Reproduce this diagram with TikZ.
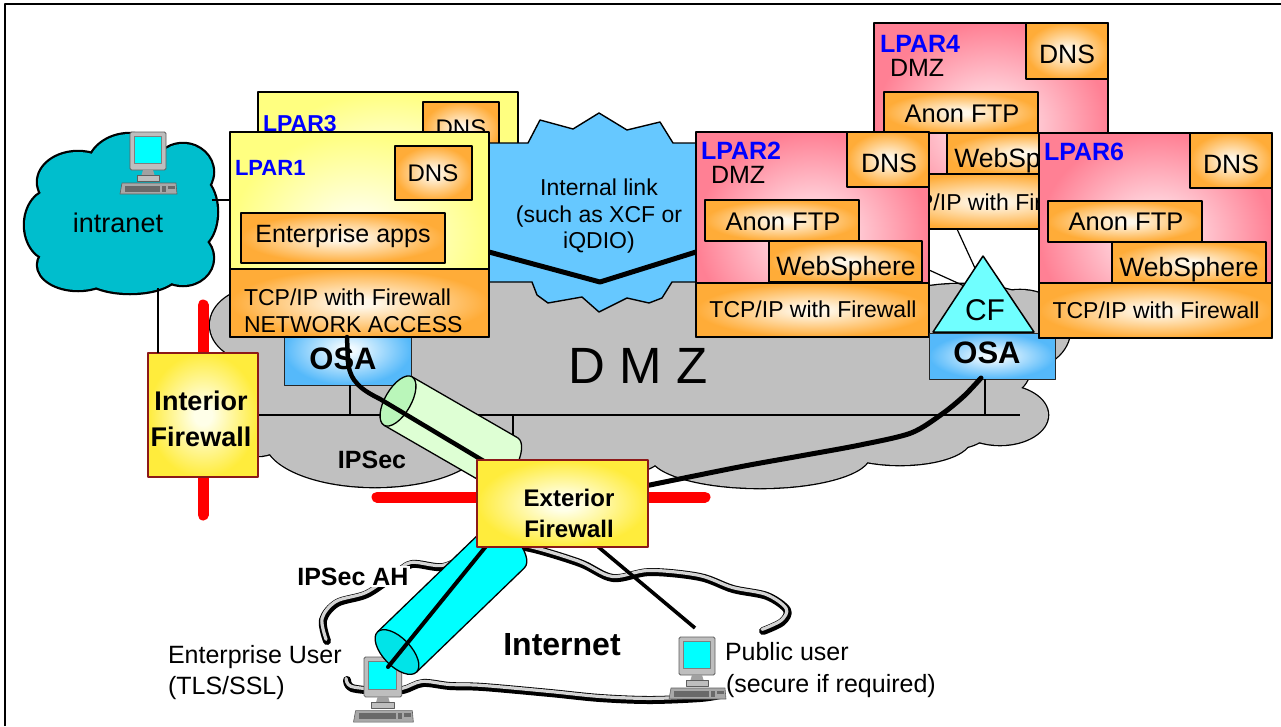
\documentclass[tikz,border=0pt]{standalone}
\usepackage{fontspec}
\setmainfont{Liberation Sans}
\usetikzlibrary{calc}

\definecolor{lparY}{RGB}{255,255,128}
\definecolor{lparYc}{RGB}{255,255,236}
\definecolor{lparP}{RGB}{255,128,148}
\definecolor{lparPc}{RGB}{255,228,234}
\definecolor{svcO}{RGB}{255,172,56}
\definecolor{svcOc}{RGB}{255,247,232}
\definecolor{osaB}{RGB}{85,185,250}
\definecolor{osaBc}{RGB}{240,250,255}
\definecolor{fwY}{RGB}{255,236,60}
\definecolor{fwYc}{RGB}{255,255,232}
\definecolor{fwEdge}{RGB}{140,25,25}
\definecolor{dmzGray}{RGB}{192,192,192}
\definecolor{linkBlue}{RGB}{102,200,255}
\definecolor{intraCyan}{RGB}{0,190,205}
\definecolor{cfCyan}{RGB}{112,255,255}
\definecolor{tunGreen}{RGB}{222,255,212}
\definecolor{tunGreenCap}{RGB}{186,246,186}
\definecolor{tunCyan}{RGB}{0,255,255}
\definecolor{tunCyanCap}{RGB}{0,228,232}
\definecolor{screenCyan}{RGB}{0,255,255}
\definecolor{lparBlue}{RGB}{0,0,255}
\definecolor{monGray}{RGB}{190,190,190}
\definecolor{monEdge}{RGB}{95,95,95}
\definecolor{kbdGray}{RGB}{168,168,168}
\definecolor{kbdKeys}{RGB}{105,105,105}
\definecolor{cloudBand}{RGB}{212,212,212}

% soft radial fills: light centre, full colour towards the edges
\pgfdeclareradialshading{glowY}{\pgfpoint{0bp}{0bp}}{color(0bp)=(lparYc); color(4bp)=(lparYc); color(25bp)=(lparY); color(50bp)=(lparY)}
\pgfdeclareradialshading{glowP}{\pgfpoint{0bp}{0bp}}{color(0bp)=(lparPc); color(4bp)=(lparPc); color(25bp)=(lparP); color(50bp)=(lparP)}
\pgfdeclareradialshading{glowO}{\pgfpoint{0bp}{0bp}}{color(0bp)=(svcOc); color(3bp)=(svcOc); color(25bp)=(svcO); color(50bp)=(svcO)}
\pgfdeclareradialshading{glowB}{\pgfpoint{0bp}{0bp}}{color(0bp)=(osaBc); color(3bp)=(osaBc); color(25bp)=(osaB); color(50bp)=(osaB)}
\pgfdeclareradialshading{glowF}{\pgfpoint{0bp}{0bp}}{color(0bp)=(fwYc); color(4bp)=(fwYc); color(25bp)=(fwY); color(50bp)=(fwY)}

\newcommand\setfs[1]{\fontsize{#1}{#1}\selectfont}

% tunnel cylinder: centre x, centre y, angle, length, radius, cap half-width, body colour, cap colour
\newcommand\tubeshape[8]{%
  \begin{scope}[shift={(#1,#2)}, rotate=#3]
    \fill[#7] (0,-#5) -- (#4,-#5) -- (#4,#5) -- (0,#5) -- cycle;
    \fill[#7] (#4,0) ellipse [x radius=#6, y radius=#5];
    \begin{scope}
      \clip (#4,-#5-4) -- (#4+#6+4,-#5-4) -- (#4+#6+4,#5+4) -- (#4,#5+4) -- cycle;
      \draw[line width=1.3] (#4,0) ellipse [x radius=#6, y radius=#5];
    \end{scope}
    \draw[line width=1.3] (0,-#5) -- (#4,-#5) (0,#5) -- (#4,#5);
    \draw[line width=1.3, fill=#8] (0,0) ellipse [x radius=#6, y radius=#5];
  \end{scope}}

% cloud outlines as unions of ellipses: x/y/rx/ry
\newcommand\intrablobs{120/215/85/60, 130/168/42/34, 78/182/40/30, 52/225/27/35, 78/265/40/25, 130/273/48/20, 183/258/30/27, 195/212/22/36, 183/172/30/28}
\newcommand\dmzblobs{640/370/390/85, 600/300/160/25, 960/320/90/36, 262/325/52/38, 258/400/45/56, 375/440/110/47, 565/452/100/30, 760/455/110/33, 900/440/70/25, 950/425/42/24, 1000/415/48/30, 1020/330/50/40}

% Internet cloud, drawn as two open strokes
\newcommand\inetTopPath{plot[smooth, tension=0.55] coordinates {(327,641) (323,620) (337,603) (367,594) (395,575) (412,564) (443,567) (470,555) (500,546) (530,548) (580,563) (613,578) (650,572) (700,577) (733,589) (767,596) (787,610) (782,622) (763,631)}}
\newcommand\inetBotPath{plot[smooth, tension=0.55] coordinates {(347,680) (352,688) (380,691) (403,690) (423,683) (450,686) (483,687) (550,693) (600,698) (650,700) (700,698) (720,695)}}

\tikzset{
  pics/workstation/.style={code={
    \draw[fill=monGray, draw=monEdge, line width=0.8, rounded corners=1.5] (0,0) rectangle (36,38);
    \draw[fill=screenCyan, draw=monEdge!80, line width=0.6] (4.5,4) rectangle (31,31);
    \fill[monGray!85!black] (13,38) -- (23,38) -- (24.5,43) -- (11.5,43) -- cycle;
    \draw[fill=monGray, draw=monEdge, line width=0.5] (7,43) rectangle (29,49);
    \draw[fill=kbdGray, draw=monEdge, line width=0.6] (-8,51) -- (46,51) -- (47,62) -- (-10,62) -- cycle;
    \fill[kbdKeys] (-5,53.5) rectangle (30,59.5);
    \fill[kbdKeys] (32,53.5) rectangle (36,59.5);
    \fill[kbdKeys] (38,53.5) rectangle (45,57);
  }}
}

\begin{document}
\begin{tikzpicture}[x=1pt, y=-1pt, line join=round,
  every node/.style={inner sep=0pt, outer sep=0pt},
  boxsize/.style 2 args={minimum width=#1, minimum height=#2},
  lparframe/.style={draw=black, line width=1.8, shade, anchor=north west},
  ylpar/.style={lparframe, shading=glowY},
  plpar/.style={lparframe, shading=glowP},
  svcbox/.style={draw=black, line width=1.4, shade, shading=glowO, anchor=north west},
  osabox/.style={draw=black!85, line width=1, shade, shading=glowB, anchor=north west},
  fwbox/.style={draw=fwEdge, line width=1.5, shade, shading=glowF, anchor=north west},
  lparname/.style={anchor=base west, text=lparBlue, font=\bfseries\setfs{#1}},
  txt/.style={anchor=base, font=\setfs{#1}},
  txtw/.style={anchor=base west, font=\setfs{#1}},
  txtb/.style={anchor=base, font=\bfseries\setfs{#1}},
  wire/.style={draw=black, line width=1.2},
  trunk/.style={draw=black, line width=4.5, line cap=round},
  fwbar/.style={draw=red, line width=11, line cap=round},
  cloudedge/.style={draw=black, line width=8, line cap=round},
  cloudband/.style={draw=cloudBand, line width=3.2, line cap=round, shift={(-0.9,-1.6)}},
]
\useasboundingbox (0,0) rectangle (1281,726);
\fill[white] (0,0) rectangle (1281,726);
\draw[line width=1.5] (5,726) -- (5,4) -- (1281,4);

% ---------------- intranet
\foreach \a/\b/\c/\d in \intrablobs {\draw[line width=4.5] (\a,\b) ellipse [x radius=\c, y radius=\d];}
\foreach \a/\b/\c/\d in \intrablobs {\fill[intraCyan] (\a,\b) ellipse [x radius=\c, y radius=\d];}
\pic (intraPC) at (130,132) {workstation};
\node[txt=27] (intraT) at (118,232) {intranet};
\coordinate (intraS) at (158,288);
\coordinate (intraE) at (212,200);

% ---------------- DMZ cloud
\foreach \a/\b/\c/\d in \dmzblobs {\draw[line width=2.6] (\a,\b) ellipse [x radius=\c, y radius=\d];}
\foreach \a/\b/\c/\d in \dmzblobs {\fill[dmzGray] (\a,\b) ellipse [x radius=\c, y radius=\d];}
\node[txt=51] (dmzT) at (638,383) {D M Z};
\node[txtb=25] (ipsecT) at (372,468) {IPSec};

% LAN segment
\coordinate (lanW) at (258,415);
\coordinate (lanE) at (1020,415);
\coordinate (tapA) at (350,415);
\coordinate (tapB) at (513,415);
\coordinate (tapBend) at (513,442);
\coordinate (tapC) at (985,415);
\draw[wire] (lanW) -- (lanE);
\draw[wire] (tapB) -- (tapBend);

% OSA adapter of LPAR1
\node[osabox, boxsize={127}{70}] (osaL) at (284,315) {};
\node[txtb=31] (osaLT) at (343,369) {OSA};
\draw[wire] (osaL.south -| tapA) -- (tapA);

% ---------------- LPAR4
\node[plpar, boxsize={234}{206}] (lpar4) at (874,23) {};
\node[svcbox, boxsize={82}{56}] (lpar4dns) at (1026,23) {};
\node[svcbox, boxsize={154}{41}] (lpar4ftp) at (884,92) {};
\node[svcbox, boxsize={154}{41}] (lpar4web) at (947,133) {};
\node[svcbox, boxsize={234}{55}] (lpar4tcp) at (874,174) {};
\node[lparname=25] (lpar4T) at (880,52) {LPAR4};
\node[txtw=25] (lpar4Z) at (890,76) {DMZ};
\node[txt=26.5] (lpar4dnsT) at (1067,63) {DNS};
\node[txt=25.5] (lpar4ftpT) at (962,122) {Anon FTP};
\begin{scope}
  \clip (947,133) rectangle (1039,174);
  \node[txt=26.5] (lpar4webT) at (1024,167) {WebSphere};
\end{scope}
\begin{scope}
  \clip (874,174) rectangle (1039,229);
  \node[txt=23] (lpar4tcpT) at (991,210) {TCP/IP with Firewall};
\end{scope}

% ---------------- LPAR3
\node[ylpar, boxsize={260}{173}] (lpar3) at (258,92) {};
\node[svcbox, boxsize={76}{54}] (lpar3dns) at (423,102) {};
\node[lparname=23] (lpar3T) at (263,131) {LPAR3};
\node[txt=24] (lpar3dnsT) at (461,136) {DNS};

% ---------------- internal link
\draw[fill=linkBlue, line width=1.4] (480,143) -- (528,143) -- (540,120) -- (573,129) -- (599,113) -- (627,130) -- (660,122) -- (673,143) -- (710,143) -- (710,282) -- (672,282) -- (662,298) -- (649,303) -- (627,298) -- (599,312) -- (582,297) -- (548,303) -- (537,295) -- (532,282) -- (480,282) -- cycle;
\node[txt=23] (linkT1) at (599,195) {Internal link};
\node[txt=23] (linkT2) at (599,222) {(such as XCF or};
\node[txt=23] (linkT3) at (599,248) {iQDIO)};
\coordinate (linkA) at (489,252);
\coordinate (linkM) at (600,282);
\coordinate (linkB) at (696,252);
\draw[line width=5] (linkA) -- (linkM) -- (linkB);

% ---------------- LPAR1
\node[ylpar, boxsize={259}{205}] (lpar1) at (230,132) {};
\node[svcbox, boxsize={77}{54}] (lpar1dns) at (395,146) {};
\node[svcbox, boxsize={204}{50}] (lpar1app) at (241,213) {};
\node[svcbox, boxsize={259}{68}] (lpar1tcp) at (230,269) {};
\node[lparname=22] (lpar1T) at (235,175) {LPAR1};
\node[txt=24] (lpar1dnsT) at (433,181) {DNS};
\node[txt=25] (lpar1appT) at (343,242) {Enterprise apps};
\node[txtw=23] (lpar1tcpT1) at (244,305) {TCP/IP with Firewall};
\node[txtw=23] (lpar1tcpT2) at (244,332) {NETWORK ACCESS};

% ---------------- LPAR2
\node[plpar, boxsize={233}{205}] (lpar2) at (696,132) {};
\node[svcbox, boxsize={82}{55}] (lpar2dns) at (847,132) {};
\node[svcbox, boxsize={154}{41}] (lpar2ftp) at (705,200) {};
\node[svcbox, boxsize={153}{41}] (lpar2web) at (769,241) {};
\node[svcbox, boxsize={233}{54}] (lpar2tcp) at (696,283) {};
\node[lparname=25] (lpar2T) at (701,159) {LPAR2};
\node[txtw=25] (lpar2Z) at (711,183) {DMZ};
\node[txt=26.5] (lpar2dnsT) at (889,172) {DNS};
\node[txt=25.5] (lpar2ftpT) at (783,230) {Anon FTP};
\node[txt=26.5] (lpar2webT) at (846,275) {WebSphere};
\node[txt=23] (lpar2tcpT) at (813,317) {TCP/IP with Firewall};

% ---------------- coupling facility and OSA of the DMZ images
\coordinate (cfTop) at (983,256);
\coordinate (cfL) at (933,332);
\coordinate (cfR) at (1034,332);
\draw[wire] (957,229) -- ($(cfTop)!0.16!(cfL)$);
\draw[wire] (lpar2.east |- 0,270) -- ($(cfTop)!0.39!(cfL)$);
\draw[fill=cfCyan, line width=1.5] (cfTop) -- (cfL) -- (cfR) -- cycle;
\node[txt=30] (cfT) at (985,320) {CF};
\node[osabox, boxsize={126}{46}] (osaR) at (929,333) {};
\node[txtb=31] (osaRT) at (987,363) {OSA};
\draw[wire] (osaR.south -| tapC) -- (tapC);

% ---------------- LPAR6
\node[plpar, boxsize={233}{205}] (lpar6) at (1039,133) {};
\node[svcbox, boxsize={82}{55}] (lpar6dns) at (1190,133) {};
\node[svcbox, boxsize={154}{41}] (lpar6ftp) at (1048,201) {};
\node[svcbox, boxsize={154}{41}] (lpar6web) at (1112,242) {};
\node[svcbox, boxsize={233}{55}] (lpar6tcp) at (1039,283) {};
\node[lparname=25] (lpar6T) at (1044,160) {LPAR6};
\node[txt=26.5] (lpar6dnsT) at (1231,173) {DNS};
\node[txt=25.5] (lpar6ftpT) at (1126,230) {Anon FTP};
\node[txt=26.5] (lpar6webT) at (1189,276) {WebSphere};
\node[txt=23] (lpar6tcpT) at (1156,318) {TCP/IP with Firewall};

% ---------------- interior firewall
\draw[fwbar] (203,305) -- (203,515);
\node[fwbox, boxsize={110}{124}] (fwInt) at (148,353) {};
\node[txtb=27] (fwIntT1) at (201,410) {Interior};
\node[txtb=27] (fwIntT2) at (201,446) {Firewall};
\draw[wire] (intraS) -- (intraS |- fwInt.north);
\draw[wire] (intraE) -- (intraE -| lpar1.west);

% ---------------- IPSec tunnel from LPAR1
\tubeshape{398}{401}{-30}{122}{28}{13}{tunGreen}{tunGreenCap}
\coordinate (lpar1port) at (347,337);
\coordinate (fwExtIn) at (492,466);
\draw[trunk] (lpar1port) -- (348,362) .. controls (350,382) and (362,390) .. (380,399) -- (fwExtIn);

% OSA of the DMZ images to the exterior firewall
\coordinate (osaRport) at (981,378);
\coordinate (fwExtOut) at (640,487);
\draw[trunk, line width=5] plot[smooth, tension=0.5] coordinates {(osaRport) (964,396) (942,414) (911,433) (860,445) (800,456) (739,467) (fwExtOut)};

% ---------------- Internet
\draw[cloudedge] \inetTopPath;
\draw[cloudband] \inetTopPath;
\draw[cloudedge] \inetBotPath;
\draw[cloudband] \inetBotPath;
\node[txtb=25, anchor=base east, fill=white, inner sep=1.5pt] (ahT) at (410,585) {IPSec AH};
\node[txtb=32] (inetT) at (562,655) {Internet};

\pic[scale=1.05] (entPC) at (364,657) {workstation};
\tubeshape{397}{652}{44}{150}{28}{14}{tunCyan}{tunCyanCap}
\coordinate (entPort) at (388,667);
\coordinate (fwExtDn) at (487,545);
\draw[trunk, line width=4] (fwExtDn) -- (entPort);

\pic (pubPC) at (679,637) {workstation};
\coordinate (fwExtDn2) at (596,545);
\coordinate (pubPort) at (695,628);
\draw[line width=3.6] (fwExtDn2) -- (pubPort);

\node[txtw=25] (entT1) at (168,663) {Enterprise User};
\node[txtw=25] (entT2) at (168,694) {(TLS/SSL)};
\node[txtw=25] (pubT1) at (725,660) {Public user};
\node[txtw=25] (pubT2) at (726,692) {(secure if required)};

% ---------------- exterior firewall
\draw[fwbar] (377,497) -- (705,497);
\node[fwbox, boxsize={171}{87}] (fwExt) at (477,460) {};
\node[txtb=24] (fwExtT1) at (569,506) {Exterior};
\node[txtb=24] (fwExtT2) at (569,537) {Firewall};

\end{tikzpicture}
\end{document}
